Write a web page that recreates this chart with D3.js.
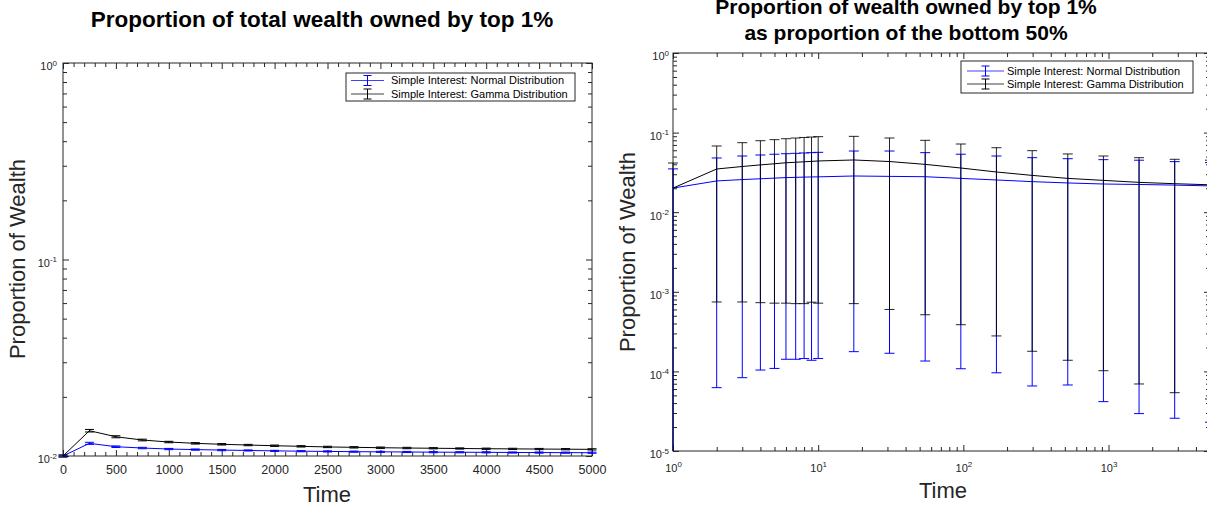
<!DOCTYPE html>
<html>
<head>
<meta charset="utf-8">
<script src="https://cdn.jsdelivr.net/npm/d3@7"></script>
<style>
  body { margin: 0; background: #fff; }
  svg { display: block; font-family: "Liberation Sans", Arial, Helvetica, sans-serif; }
</style>
</head>
<body>
<svg id="chart" width="1207" height="507"></svg>
<script>
// left panel: share of total wealth held by the top 1%
const shareTime = [0, 250, 500, 750, 1000, 1250, 1500, 1750, 2000, 2250, 2500,
                   2750, 3000, 3250, 3500, 3750, 4000, 4250, 4500, 4750, 5000];
const normalShare = [0.0100, 0.01160, 0.01115, 0.01098, 0.01085, 0.01078, 0.01072, 0.01067, 0.01062, 0.01058, 0.01055,
                     0.01052, 0.01050, 0.01048, 0.01046, 0.01045, 0.01044, 0.01042, 0.01041, 0.01040, 0.01039];
const normalShareErr = [0.0001, 0.00014, 0.0001, 0.00009, 0.00008, 0.00008, 0.00008, 0.00007, 0.00007, 0.00007, 0.00007,
                        0.00007, 0.00007, 0.00007, 0.00007, 0.00007, 0.00007, 0.00007, 0.00007, 0.00007, 0.00007];
const gammaShare = [0.0100, 0.01345, 0.01253, 0.01206, 0.01178, 0.01160, 0.01147, 0.01137, 0.01128, 0.01120, 0.01112,
                    0.01107, 0.01102, 0.01098, 0.01095, 0.01092, 0.01089, 0.01087, 0.01085, 0.01083, 0.01081];
const gammaShareErr = [0.00012, 0.0002, 0.00015, 0.00012, 0.0001, 0.0001, 0.0001, 0.00009, 0.00009, 0.00009, 0.00009,
                       0.00009, 0.00009, 0.00009, 0.00008, 0.00008, 0.00008, 0.00008, 0.00008, 0.00008, 0.00008];

// right panel: top 1% wealth as a proportion of the bottom 50%
const ratioTime = [1, 2, 3, 4, 5, 6, 7, 8, 9, 10, 17.6, 31, 54.6, 96.1, 169, 298, 524, 922, 1623, 2856, 5000];
const normalRatio = [0.0201, 0.0247, 0.0257, 0.0263, 0.0268, 0.0272, 0.0274, 0.0276, 0.0277, 0.0278, 0.0285,
                     0.0282, 0.0279, 0.0266, 0.0254, 0.0242, 0.0233, 0.0226, 0.0223, 0.0219, 0.0214];
const normalRatioHigh = [0.035, 0.0480, 0.0508, 0.0523, 0.0535, 0.0543, 0.0549, 0.0555, 0.0560, 0.0565, 0.0587,
                         0.0587, 0.0560, 0.0535, 0.0508, 0.0484, 0.0470, 0.0457, 0.0450, 0.0432, 0.0420];
const normalRatioLow = [0, 6.25e-5, 8.34e-5, 1.04e-4, 1.09e-4, 1.42e-4, 1.42e-4, 1.45e-4, 1.38e-4, 1.45e-4, 1.77e-4,
                        1.69e-4, 1.35e-4, 1.08e-4, 9.6e-5, 6.56e-5, 6.75e-5, 4.17e-5, 2.95e-5, 2.58e-5, 2.3e-5];
const gammaRatio = [0.0201, 0.0349, 0.0375, 0.0393, 0.0406, 0.0418, 0.0424, 0.0430, 0.0435, 0.0440, 0.0453,
                    0.0433, 0.0399, 0.0359, 0.0320, 0.0290, 0.0266, 0.0251, 0.0237, 0.0228, 0.0221];
const gammaRatioHigh = [0.0415, 0.0679, 0.0747, 0.0791, 0.0815, 0.0838, 0.0855, 0.0869, 0.0879, 0.0889, 0.0897,
                        0.0855, 0.0800, 0.0719, 0.0646, 0.0593, 0.0539, 0.0508, 0.0484, 0.0462, 0.0450];
const gammaRatioLow = [0, 7.45e-4, 7.45e-4, 7.3e-4, 7.2e-4, 7.2e-4, 7.1e-4, 7.1e-4, 7.4e-4, 7.2e-4, 7.1e-4,
                       6.0e-4, 5.15e-4, 3.86e-4, 2.79e-4, 1.79e-4, 1.38e-4, 1.02e-4, 6.95e-5, 5.4e-5, 4.5e-5];

// ticks and text
const shareTicks = [0, 500, 1000, 1500, 2000, 2500, 3000, 3500, 4000, 4500, 5000];
const shareDecades = [0.01, 0.1, 1];
const ratioTimeDecades = [1, 10, 100, 1000];
const ratioDecades = [1e-5, 1e-4, 1e-3, 1e-2, 1e-1, 1];
const seriesNames = ["Simple Interest: Normal Distribution", "Simple Interest: Gamma Distribution"];
const seriesColors = ["#0000ff", "#000000"];

const axisColor = "#262626";
const svg = d3.select("#chart");

function logMinors(decades, max) {
  const out = [];
  decades.forEach(d => {
    for (let k = 2; k <= 9; k++) if (d * k < max) out.push(d * k);
  });
  return out;
}

function supLabels(sel) {
  sel.each(function(d) {
    const t = d3.select(this);
    t.text(null);
    t.append("tspan").text("10");
    t.append("tspan").attr("dy", "-0.6em").attr("font-size", "8px").text(Math.round(Math.log10(d)));
  });
}

function styleAxis(g) {
  g.select(".domain").remove();
  g.selectAll(".tick line").attr("stroke", axisColor);
  g.selectAll(".tick text").attr("fill", axisColor);
}

function frame(g, x, y, o) {
  const [x0, x1] = x.range();
  const [y0, y1] = y.range();
  const big = 6, small = 4;

  g.append("g").attr("transform", `translate(0,${y0})`)
    .call(d3.axisBottom(x).tickValues(o.xMinor).tickSize(-small).tickFormat(""))
    .call(styleAxis);
  g.append("g").attr("transform", `translate(0,${y1})`)
    .call(d3.axisTop(x).tickValues(o.xMinor).tickSize(-small).tickFormat(""))
    .call(styleAxis);
  g.append("g").attr("transform", `translate(${x0},0)`)
    .call(d3.axisLeft(y).tickValues(o.yMinor).tickSize(-small).tickFormat(""))
    .call(styleAxis);
  g.append("g").attr("transform", `translate(${x1},0)`)
    .call(d3.axisRight(y).tickValues(o.yMinor).tickSize(-small).tickFormat(""))
    .call(styleAxis);

  const bx = g.append("g").attr("transform", `translate(0,${y0})`)
    .call(d3.axisBottom(x).tickValues(o.xMajor).tickSize(-big).tickPadding(o.xPad).tickFormat(d3.format("d")))
    .call(styleAxis);
  bx.selectAll("text").attr("font-size", o.xFont);
  if (o.xLog) bx.selectAll(".tick text").call(supLabels);

  g.append("g").attr("transform", `translate(0,${y1})`)
    .call(d3.axisTop(x).tickValues(o.xMajor).tickSize(-big).tickFormat(""))
    .call(styleAxis);

  const ly = g.append("g").attr("transform", `translate(${x0},0)`)
    .call(d3.axisLeft(y).tickValues(o.yMajor).tickSize(-big).tickPadding(o.yPad))
    .call(styleAxis);
  ly.selectAll(".tick text").attr("font-size", "11px").attr("dy", "0.62em").call(supLabels);

  g.append("g").attr("transform", `translate(${x1},0)`)
    .call(d3.axisRight(y).tickValues(o.yMajor).tickSize(-big).tickFormat(""))
    .call(styleAxis);

  g.append("rect")
    .attr("x", x0).attr("y", y1).attr("width", x1 - x0).attr("height", y0 - y1)
    .attr("fill", "none").attr("stroke", axisColor).attr("stroke-width", 1);
}

function series(g, x, y, xs, mean, lo, hi, color, capW, barOpacity) {
  const yc = y.copy().clamp(true);
  const bars = g.append("g").attr("stroke", color).attr("stroke-width", 1)
    .attr("stroke-opacity", barOpacity);
  xs.forEach((t, i) => {
    const cx = x(t);
    bars.append("line").attr("x1", cx).attr("x2", cx).attr("y1", yc(lo[i])).attr("y2", yc(hi[i]));
    [lo[i], hi[i]].forEach(v => {
      if (v > 0) bars.append("line")
        .attr("x1", cx - capW / 2).attr("x2", cx + capW / 2)
        .attr("y1", y(v)).attr("y2", y(v));
    });
  });
  g.append("path")
    .datum(xs.map((t, i) => [t, mean[i]]))
    .attr("fill", "none").attr("stroke", color).attr("stroke-width", 1)
    .attr("d", d3.line().x(d => x(d[0])).y(d => y(d[1])));
}

function legend(g, bx, by, bw, bh, rows, lineX0, lineX1, textX, size) {
  g.append("rect").attr("x", bx).attr("y", by).attr("width", bw).attr("height", bh)
    .attr("fill", "#fff").attr("stroke", axisColor).attr("stroke-width", 1);
  seriesNames.forEach((name, i) => {
    const cy = rows[i];
    const gx = (lineX0 + lineX1) / 2;
    g.append("line").attr("x1", lineX0).attr("x2", lineX1).attr("y1", cy).attr("y2", cy)
      .attr("stroke", seriesColors[i]).attr("stroke-opacity", 0.75);
    g.append("line").attr("x1", gx).attr("x2", gx).attr("y1", cy - 5).attr("y2", cy + 5)
      .attr("stroke", seriesColors[i]);
    [cy - 5, cy + 5].forEach(v => g.append("line")
      .attr("x1", gx - 4).attr("x2", gx + 4).attr("y1", v).attr("y2", v)
      .attr("stroke", seriesColors[i]));
    g.append("text").attr("x", textX).attr("y", cy).attr("dy", "0.35em")
      .attr("font-size", size).attr("fill", "#000").text(name);
  });
}

// ---- left panel
const xL = d3.scaleLinear().domain([0, 5000]).range([63, 592]);
const yL = d3.scaleLog().domain([0.01, 1]).range([456, 63]);
const left = svg.append("g");

frame(left, xL, yL, {
  xMajor: shareTicks, xMinor: d3.range(0, 5001, 100).filter(v => v % 500),
  yMajor: shareDecades, yMinor: logMinors([0.01, 0.1], 1),
  xPad: 9, yPad: 6, xFont: "12.5px"
});
series(left, xL, yL, shareTime, normalShare,
  normalShare.map((v, i) => v - normalShareErr[i]), normalShare.map((v, i) => v + normalShareErr[i]),
  seriesColors[0], 9, 1);
series(left, xL, yL, shareTime, gammaShare,
  gammaShare.map((v, i) => v - gammaShareErr[i]), gammaShare.map((v, i) => v + gammaShareErr[i]),
  seriesColors[1], 9, 1);
legend(left, 346, 73, 229, 28, [80.5, 94], 351, 384, 391, "11px");

left.append("text").attr("x", 322).attr("y", 27).attr("text-anchor", "middle")
  .attr("font-size", "22.5px").attr("font-weight", "bold").attr("fill", "#000")
  .text("Proportion of total wealth owned by top 1%");
left.append("text").attr("x", 327).attr("y", 502).attr("text-anchor", "middle")
  .attr("font-size", "22px").attr("fill", axisColor).text("Time");
left.append("text").attr("transform", "translate(25,259) rotate(-90)").attr("text-anchor", "middle")
  .attr("font-size", "22px").attr("fill", axisColor).text("Proportion of Wealth");

// ---- right panel
const xR = d3.scaleLog().domain([1, 5000]).range([673, 1210]);
const yR = d3.scaleLog().domain([1e-5, 1]).range([451, 53]);
const right = svg.append("g");

frame(right, xR, yR, {
  xMajor: ratioTimeDecades, xMinor: logMinors(ratioTimeDecades, 5000),
  yMajor: ratioDecades, yMinor: logMinors(ratioDecades.slice(0, -1), 1),
  xPad: 13, yPad: 4, xFont: "11px", xLog: true
});
series(right, xR, yR, ratioTime, normalRatio, normalRatioLow, normalRatioHigh, seriesColors[0], 10, 1);
series(right, xR, yR, ratioTime, gammaRatio, gammaRatioLow, gammaRatioHigh, seriesColors[1], 10, 0.85);
legend(right, 961, 61, 232, 32, [71, 84], 967, 1004, 1007, "11px");

right.append("text").attr("x", 906).attr("y", 14).attr("text-anchor", "middle")
  .attr("font-size", "21px").attr("font-weight", "bold").attr("fill", "#000")
  .text("Proportion of wealth owned by top 1%");
right.append("text").attr("x", 906).attr("y", 40).attr("text-anchor", "middle")
  .attr("font-size", "21px").attr("font-weight", "bold").attr("fill", "#000")
  .text("as proportion of the bottom 50%");
right.append("text").attr("x", 943).attr("y", 498).attr("text-anchor", "middle")
  .attr("font-size", "22px").attr("fill", axisColor).text("Time");
right.append("text").attr("transform", "translate(635,252) rotate(-90)").attr("text-anchor", "middle")
  .attr("font-size", "22px").attr("fill", axisColor).text("Proportion of Wealth");
</script>
</body>
</html>
